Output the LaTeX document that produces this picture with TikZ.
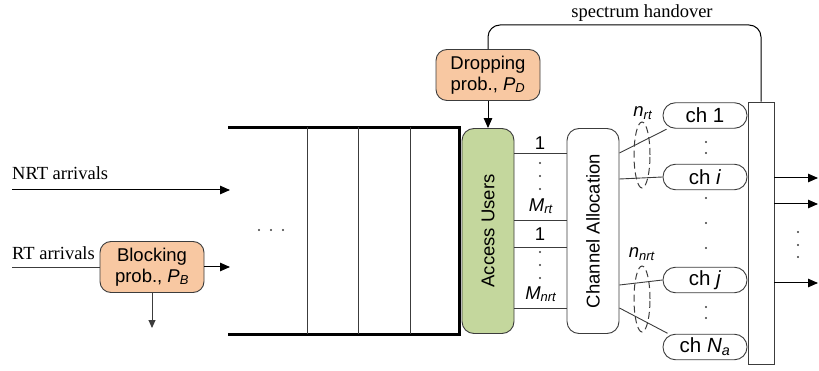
\documentclass[tikz,border=0pt]{standalone}
\usepackage{fontspec}
\setmainfont{Liberation Serif}
\setsansfont{Liberation Sans}
\usetikzlibrary{arrows.meta,calc}
\definecolor{peach}{HTML}{F8C8A2}
\definecolor{sage}{HTML}{C4D79D}
\definecolor{ln}{HTML}{3C3C3C}
\newcommand{\itsub}[2]{\textit{#1}\textsubscript{\textit{#2}}}
\begin{document}
\begin{tikzpicture}[x=1pt,y=-1pt,
  line/.style={draw=ln, line width=0.9pt},
  sf/.style={font=\sffamily\fontsize{18.5}{20.5}\selectfont},
  rm/.style={font=\rmfamily\fontsize{18.5}{20.5}\selectfont},
  probbox/.style={draw=ln, fill=peach, line width=0.9pt, rounded corners=11pt, minimum width=104pt, minimum height=51pt, inner sep=0pt, align=center, sf},
  tallbox/.style={draw=ln, line width=0.9pt, rounded corners=12pt, minimum width=52pt, minimum height=205pt, inner sep=0pt},
  chbox/.style={draw=ln, fill=white, line width=0.9pt, rounded corners=12.5pt, minimum width=84pt, minimum height=25.5pt, inner sep=0pt, font=\sffamily\fontsize{20.5}{22}\selectfont},
  arr/.style={-{Triangle[length=10pt,width=8.5pt]}, line width=1pt, black},
  arrsm/.style={-{Triangle[length=8pt,width=7pt]}, line width=0.9pt, draw=ln},
  qline/.style={line width=3pt, black},
  ell/.style={draw=ln, line width=1pt, dash pattern=on 7pt off 4pt},
]
\useasboundingbox (0,0) rectangle (819,371);

% queue
\draw[qline] (228,127.5) -- (459,127.5) -- (459,334) -- (228,334);
\foreach \x in {307,358,410} \draw[line] (\x,127.5) -- (\x,334);
\foreach \x in {259,271,283} \fill[ln] (\x,230) circle (1.2pt);

% arrivals
\coordinate (nrtstart) at (12,190);
\coordinate (qin1) at (230,190);
\coordinate (rtstart) at (12,267);
\coordinate (qin2) at (230,267);
\coordinate (blkdrop) at (152,328);
\node[rm, anchor=base west, inner sep=0pt] (nrtlbl) at (12,180) {NRT arrivals};
\node[rm, anchor=base west, inner sep=0pt] (rtlbl) at (12,260) {RT arrivals};
\node[probbox] (blk) at (152,267) {Blocking\\prob., \itsub{P}{B}};
\draw[arr] (nrtstart) -- (qin1);
\draw[line] (rtstart) -- (blk.west);
\draw[arr] (blk.east) -- (qin2);
\draw[arrsm] (blk.south) -- (blkdrop);

% access users and channel allocation
\node[tallbox, fill=sage] (au) at (488,231) {};
\node[sf, rotate=90] (aulbl) at (au) {Access Users};
\node[tallbox, fill=white] (ca) at (593,231) {};
\node[sf, rotate=90] (calbl) at (ca) {Channel Allocation};

\node[probbox] (drp) at (488,75) {Dropping\\prob., \itsub{P}{D}};
\draw[arr] (drp.south) -- (au.north);

\foreach \y in {153,220,247,308} \draw[line] (au.east |- 0,\y) -- (ca.west |- 0,\y);
\node[sf, inner sep=0pt] (one1) at (540,143) {1};
\node[sf, inner sep=0pt] (mrt) at (541,206) {\itsub{M}{rt}};
\node[sf, inner sep=0pt] (one2) at (540,234) {1};
\node[sf, inner sep=0pt] (mnrt) at (541,294) {\itsub{M}{nrt}};
\foreach \y in {163,176,189,252,265,278} \fill[ln] (540,\y) circle (1.2pt);

% right box
\node[draw=ln, fill=white, line width=0.9pt, minimum width=26pt, minimum height=262pt, inner sep=0pt] (rb) at (761,233) {};

% channels
\node[chbox] (ch1) at (705,115.5) {ch 1};
\node[chbox] (chi) at (705,177) {ch \textit{i}};
\node[chbox] (chj) at (705,280) {ch \textit{j}};
\node[chbox] (chn) at (705,347) {ch \itsub{N}{a}};
\foreach \y in {142,153,198,223,248,307,318} \fill[ln] (706,\y) circle (1.2pt);

\draw[line] (ca.east |- 0,153) -- ([xshift=4pt,yshift=-0.5pt]ch1.south west);
\draw[line] (ca.east |- 0,179) -- (chi.west);
\draw[line] (ca.east |- 0,285) -- (chj.west);
\draw[line] (ca.east |- 0,308) -- ([xshift=5pt,yshift=0.5pt]chn.north west);

\draw[ell] (642,155) ellipse (8pt and 33pt);
\draw[ell] (642,299) ellipse (8pt and 33pt);
\node[sf, inner sep=0pt] (nrt) at (643,113) {\itsub{n}{rt}};
\node[sf, inner sep=0pt] (nnrt) at (642,254) {\itsub{n}{nrt}};

% handover
\coordinate (ho) at (761,25);
\draw[line, line width=1pt, black, rounded corners=12pt] (drp.north) |- (ho) -- (rb.north);
\node[rm, anchor=base, inner sep=0pt] (holbl) at (642,18) {spectrum handover};

% outputs
\coordinate (o1) at (818,178);
\coordinate (o2) at (818,204);
\coordinate (o3) at (818,283);
\draw[arr] (rb.east |- o1) -- (o1);
\draw[arr] (rb.east |- o2) -- (o2);
\draw[arr] (rb.east |- o3) -- (o3);
\foreach \y in {232,245,257} \fill[ln] (798,\y) circle (1.2pt);
\end{tikzpicture}
\end{document}
